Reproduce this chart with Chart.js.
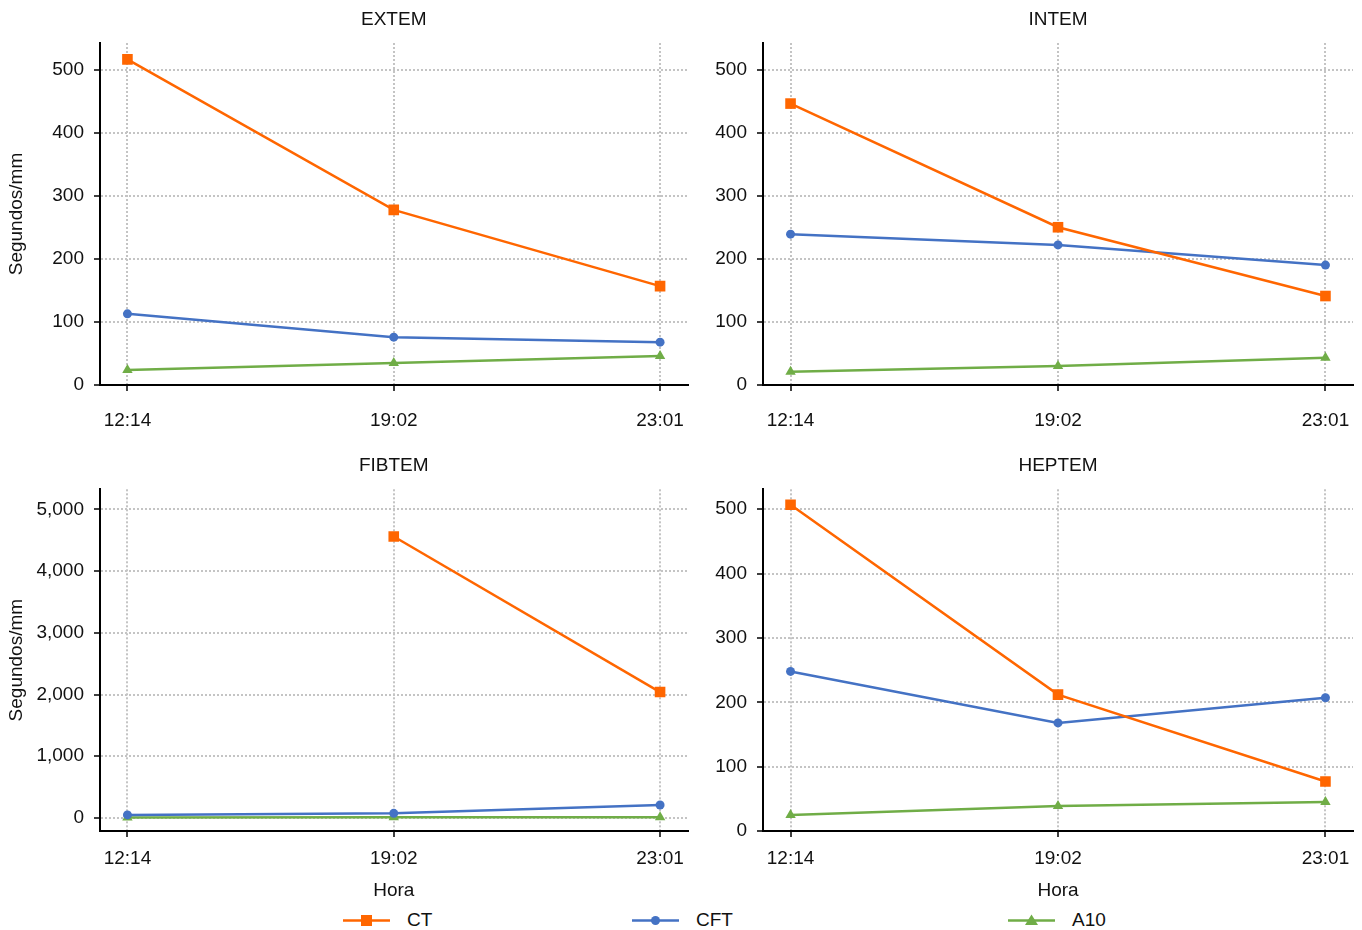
<!DOCTYPE html>
<html lang="pt">
<head>
<meta charset="UTF-8">
<title>Tromboelastometria</title>
<script src="https://cdn.jsdelivr.net/npm/chart.js"></script>
<style>
  body { margin: 0; background: #fff; font-family: "Liberation Sans", Arial, sans-serif; }
  #wrap { position: relative; width: 1362px; height: 930px; overflow: hidden; }
  #wrap canvas { position: absolute; }
  .leg { position: absolute; top: 909px; height: 22px; display: flex; align-items: center; font-size: 19px; color: #111; }
  .leg svg { margin-right: 17px; }
</style>
</head>
<body>
<div id="wrap"></div>
<script>
// valores (Segundos/mm)
const horas = ['12:14', '19:02', '23:01'];
const series = ['CT', 'CFT', 'A10'];

const extemCT = [517, 278, 157];
const extemCFT = [113, 76, 68];
const extemA10 = [24, 35, 46];

const intemCT = [446, 250, 141];
const intemCFT = [239, 222, 190];
const intemA10 = [21, 30, 43];

const fibtemCT = [null, 4560, 2040];
const fibtemCFT = [50, 75, 210];
const fibtemA10 = [8, 10, 12];

const heptemCT = [507, 212, 77];
const heptemCFT = [248, 168, 207];
const heptemA10 = [25, 39, 45];

const ticks500 = [0, 100, 200, 300, 400, 500];
const ticks5000 = [0, 1000, 2000, 3000, 4000, 5000];

const colors = ['#ff6600', '#4472c4', '#70ad47'];
const markers = ['rect', 'circle', 'triangle'];
const radii = [7.5, 4.5, 6];

Chart.defaults.font.family = '"Liberation Sans", Arial, sans-serif';
Chart.defaults.font.size = 19;
Chart.defaults.color = '#111';

const wrap = document.getElementById('wrap');

const panels = [
  { title: 'EXTEM', values: [extemCT, extemCFT, extemA10], yMin: 0, yMax: 543, yTicks: ticks500,
    left: 0, top: 0, w: 695, h: 440, yw: 100, padR: 4, xh: 55, xpad: 18.6, yTitle: true, xTitle: false, tTop: 8.6, tBot: 11.6 },
  { title: 'INTEM', values: [intemCT, intemCFT, intemA10], yMin: 0, yMax: 542, yTicks: ticks500,
    left: 695, top: 0, w: 667, h: 440, yw: 68, padR: 9, xh: 55, xpad: 18.6, yTitle: false, xTitle: false, tTop: 8.6, tBot: 11.6 },
  { title: 'FIBTEM', values: [fibtemCT, fibtemCFT, fibtemA10], yMin: -211, yMax: 5325, yTicks: ticks5000,
    left: 0, top: 440, w: 695, h: 463, yw: 100, padR: 4, xh: 72, xpad: 10.6, yTitle: true, xTitle: true, tTop: 14.6, tBot: 11.9 },
  { title: 'HEPTEM', values: [heptemCT, heptemCFT, heptemA10], yMin: 0, yMax: 531, yTicks: ticks500,
    left: 695, top: 440, w: 667, h: 463, yw: 68, padR: 9, xh: 72, xpad: 10.6, yTitle: false, xTitle: true, tTop: 14.6, tBot: 11.9 }
];

const gridOpts = { color: '#c4c4c4', lineWidth: 2, tickLength: 6, tickColor: '#000', tickWidth: 1.5 };
const borderOpts = { display: true, color: '#000', width: 2, dash: [2, 2] };

function makePanel(p) {
  const canvas = document.createElement('canvas');
  canvas.width = p.w;
  canvas.height = p.h;
  canvas.style.left = p.left + 'px';
  canvas.style.top = p.top + 'px';
  wrap.appendChild(canvas);

  const datasets = p.values.map((vals, k) => ({
    label: series[k],
    data: vals.map((v, i) => ({ x: i, y: v })),
    borderColor: colors[k],
    backgroundColor: colors[k],
    borderWidth: 2.5,
    pointStyle: markers[k],
    pointRadius: radii[k],
    pointHoverRadius: radii[k],
    pointBorderWidth: 0,
    tension: 0,
    spanGaps: false
  }));

  new Chart(canvas.getContext('2d'), {
    type: 'line',
    data: { datasets },
    options: {
      responsive: false,
      animation: false,
      devicePixelRatio: 1,
      layout: { padding: { left: 0, right: p.padR, top: 0, bottom: 0 } },
      plugins: {
        legend: { display: false },
        tooltip: { enabled: false },
        title: {
          display: true, text: p.title, fullSize: false,
          font: { size: 19, weight: 'normal' }, color: '#111',
          padding: { top: p.tTop, bottom: p.tBot }
        }
      },
      scales: {
        x: {
          type: 'linear', min: -0.103, max: 2.103,
          afterBuildTicks: s => { s.ticks = horas.map((h, i) => ({ value: i })); },
          afterFit: s => { s.height = p.xh; s.paddingLeft = 0; s.paddingRight = 0; },
          ticks: { padding: p.xpad, maxRotation: 0, autoSkip: false, callback: v => horas[v] },
          grid: gridOpts,
          border: borderOpts,
          title: { display: p.xTitle, text: 'Hora', padding: { top: 0, bottom: 0.6 } }
        },
        y: {
          type: 'linear', min: p.yMin, max: p.yMax,
          afterBuildTicks: s => { s.ticks = p.yTicks.map(v => ({ value: v })); },
          afterFit: s => { s.width = p.yw; s.paddingTop = 0; s.paddingBottom = 0; },
          ticks: { padding: 10, callback: v => v.toLocaleString('en-US') },
          grid: gridOpts,
          border: borderOpts,
          title: { display: p.yTitle, text: 'Segundos/mm', padding: { top: 5.6, bottom: 0 } }
        }
      }
    }
  });
}

panels.forEach(makePanel);

// legenda comum
const legendX = [343, 632, 1008];
function markerSvg(k) {
  const c = colors[k];
  let shape;
  if (markers[k] === 'rect') shape = `<rect x="18" y="5" width="11" height="11" fill="${c}"/>`;
  else if (markers[k] === 'circle') shape = `<circle cx="23.5" cy="10.5" r="4.5" fill="${c}"/>`;
  else shape = `<polygon points="23.5,4.5 30,15 17,15" fill="${c}"/>`;
  return `<svg width="47" height="21"><line x1="0" y1="10.5" x2="47" y2="10.5" stroke="${c}" stroke-width="2.5"/>${shape}</svg>`;
}
series.forEach((name, k) => {
  const item = document.createElement('div');
  item.className = 'leg';
  item.style.left = legendX[k] + 'px';
  item.innerHTML = markerSvg(k) + '<span>' + name + '</span>';
  wrap.appendChild(item);
});
</script>
</body>
</html>
